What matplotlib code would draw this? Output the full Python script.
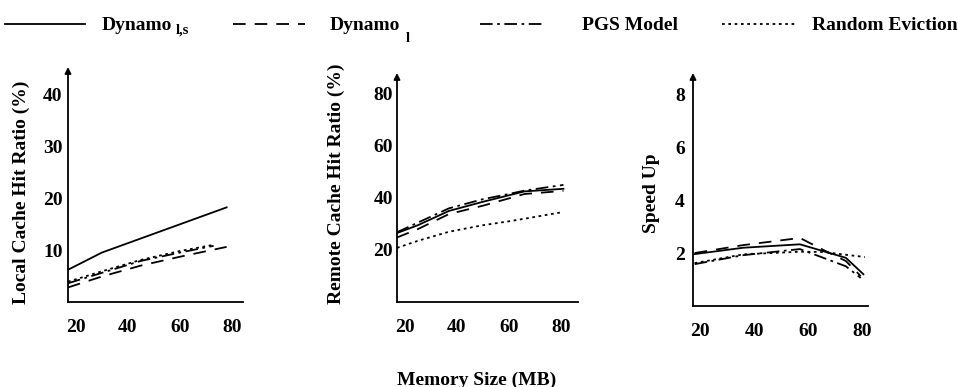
import numpy as np
import matplotlib
matplotlib.use('Agg')
import matplotlib.pyplot as plt
from matplotlib.lines import Line2D

plt.rcParams.update({
    'font.family': 'Liberation Serif', 'font.weight': 'bold', 'font.size': 14,
})

W, H = 958, 387

# --- data ---
# local cache hit ratio (%)
loc_x_dls = [17, 30, 78]
loc_dls = [6.2, 9.5, 18.2]
loc_x_dl = [17, 30, 45, 60, 78]
loc_dl = [2.8, 4.9, 7.0, 8.7, 10.6]
loc_x_pgs = [17, 30, 45, 60, 73]
loc_pgs = [3.6, 5.6, 7.9, 9.5, 10.8]
loc_x_rnd = [17, 30, 45, 60, 73]
loc_rnd = [3.9, 5.9, 8.1, 9.8, 11.0]

# remote cache hit ratio (%)
rem_x = [17, 25, 37, 50, 60, 66, 81]
rem_dls = [26.5, 29.5, 35.0, 38.5, 41.0, 42.5, 43.5]
rem_dl = [24.8, 28.0, 33.8, 37.0, 39.8, 41.5, 42.7]
rem_pgs = [26.8, 30.5, 36.0, 39.5, 41.5, 42.8, 45.0]
rem_rnd = [20.8, 23.5, 27.0, 29.5, 31.0, 32.0, 34.6]

# speed up
spd_x_dls = [18, 36, 57, 74, 80.5]
spd_dls = [1.96, 2.2, 2.33, 1.82, 1.2]
spd_x_dl = [18, 36, 57, 66, 74, 79.5]
spd_dl = [2.0, 2.3, 2.57, 2.1, 1.7, 1.13]
spd_x_pgs = [18, 36, 57, 74, 79.5]
spd_pgs = [1.58, 1.92, 2.15, 1.5, 1.06]
spd_x_rnd = [18, 36, 57, 66, 72, 81]
spd_rnd = [1.62, 1.95, 2.05, 2.04, 1.96, 1.85]

x_ticks = [20, 40, 60, 80]
names = ['Dynamo', 'Dynamo', 'PGS Model', 'Random Eviction']
subs = ['l,s', 'l', '', '']

styles = {
    'dls': dict(ls='-'),
    'dl': dict(ls=(0, (7, 5))),
    'pgs': dict(ls=(0, (7, 2.5, 1.5, 2.5))),
    'rnd': dict(ls=(0, (1.5, 2))),
}
LW = 1.3


def make_ax(l, r, t, b):
    ax = fig.add_axes([l / W, 1 - b / H, (r - l) / W, (b - t) / H])
    for s in ['top', 'right', 'left']:
        ax.spines[s].set_visible(False)
    ax.spines['bottom'].set_linewidth(1.3)
    ax.annotate('', xy=(0, 1), xytext=(0, 0), xycoords='axes fraction',
                arrowprops=dict(arrowstyle='-|>', lw=1.3, color='k',
                                mutation_scale=9, shrinkA=0, shrinkB=0))
    ax.tick_params(length=0)
    ax.tick_params(axis='x', pad=12)
    return ax


fig = plt.figure(figsize=(W / 100, H / 100), dpi=100)

# panel 1
ax1 = make_ax(68, 243, 67, 302)
ax1.plot(loc_x_dls, loc_dls, color='k', lw=LW, **styles['dls'])
ax1.plot(loc_x_dl, loc_dl, color='k', lw=LW, **styles['dl'])
ax1.plot(loc_x_pgs, loc_pgs, color='k', lw=LW, **styles['pgs'])
ax1.plot(loc_x_rnd, loc_rnd, color='k', lw=LW, **styles['rnd'])
ax1.set_xlim(17, 84.3)
ax1.set_ylim(0, 45.2)
ax1.set_yticks([10, 20, 30, 40])
ax1.tick_params(axis='y', pad=4)

# panel 2
ax2 = make_ax(397, 578, 73, 302)
ax2.plot(rem_x, rem_dls, color='k', lw=LW, **styles['dls'])
ax2.plot(rem_x, rem_dl, color='k', lw=LW, **styles['dl'])
ax2.plot(rem_x, rem_pgs, color='k', lw=LW, **styles['pgs'])
ax2.plot(rem_x, rem_rnd, color='k', lw=LW, **styles['rnd'])
ax2.set_xlim(17, 86.6)
ax2.set_ylim(0, 88)
ax2.set_yticks([20, 40, 60, 80])
ax2.tick_params(axis='y', pad=3)

# panel 3
ax3 = make_ax(693, 868, 73, 306)
ax3.plot(spd_x_dls, spd_dls, color='k', lw=LW, **styles['dls'])
ax3.plot(spd_x_dl, spd_dl, color='k', lw=LW, **styles['dl'])
ax3.plot(spd_x_pgs, spd_pgs, color='k', lw=LW, **styles['pgs'])
ax3.plot(spd_x_rnd, spd_rnd, color='k', lw=LW, **styles['rnd'])
ax3.set_xlim(17.4, 82.2)
ax3.set_ylim(0, 8.8)
ax3.set_yticks([2, 4, 6, 8])
ax3.tick_params(axis='y', pad=6)

for ax in (ax1, ax2, ax3):
    ax.set_xticks(x_ticks)

# y labels
for x, y, txt in [(21, 192, 'Local Cache Hit Ratio (%)'),
                  (336, 184, 'Remote Cache Hit Ratio (%)'),
                  (652, 193, 'Speed Up')]:
    fig.text(x / W, 1 - y / H, txt, rotation=90, ha='center', va='center',
             fontsize=14, fontweight='bold')

fig.text(477 / W, 1 - 380 / H, 'Memory Size (MB)', ha='center', va='center',
         fontsize=14, fontweight='bold')

# legend across the top: (line start, line end, text x, subscript x, subscript baseline)
leg_pos = [(5, 85, 102, 176, 34), (233, 305, 330, 406, 42),
           (480, 545, 582, 0, 0), (722, 795, 812, 0, 0)]
for (x0, x1, tx, sx, sy), key, name, sub in zip(leg_pos, ['dls', 'dl', 'pgs', 'rnd'],
                                               names, subs):
    fig.add_artist(Line2D([x0 / W, x1 / W], [1 - 24 / H, 1 - 24 / H],
                          color='k', lw=LW, **styles[key]))
    fig.text(tx / W, 1 - 30 / H, name, ha='left', va='baseline',
             fontsize=14, fontweight='bold')
    if sub:
        fig.text(sx / W, 1 - sy / H, sub, ha='left', va='baseline',
                 fontsize=10.5, fontweight='bold')

fig.savefig('out.png', dpi=100)
